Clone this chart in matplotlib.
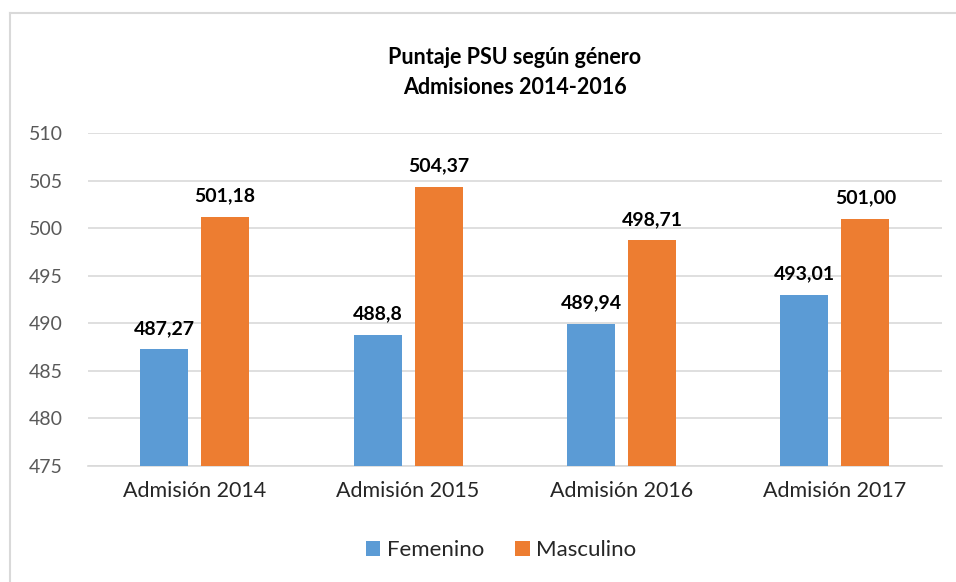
import numpy as np
import matplotlib.pyplot as plt
from matplotlib.lines import Line2D

categories = ["Admisión 2014", "Admisión 2015", "Admisión 2016", "Admisión 2017"]
femenino = [487.27, 488.8, 489.94, 493.01]
masculino = [501.18, 504.37, 498.71, 501.00]
fem_labels = ["487,27", "488,8", "489,94", "493,01"]
mas_labels = ["501,18", "504,37", "498,71", "501,00"]

plt.rcParams["font.family"] = ["Lato", "DejaVu Sans"]

fig = plt.figure(figsize=(9.56, 5.82), dpi=100)
ax = fig.add_axes([0.092, 0.1993, 0.893, 0.5722])

x = np.arange(len(categories))
w = 0.225
off = 0.143
b1 = ax.bar(x - off, femenino, w, color="#5B9BD5", label="Femenino", zorder=3)
b2 = ax.bar(x + off, masculino, w, color="#ED7D31", label="Masculino", zorder=3)

for bars, labels in [(b1, fem_labels), (b2, mas_labels)]:
    for rect, lab in zip(bars, labels):
        ax.annotate(lab, (rect.get_x() + rect.get_width() / 2, rect.get_height()),
                    xytext=(0, 9), textcoords="offset points",
                    ha="center", va="bottom", fontsize=14, fontweight="bold",
                    color="black")

ax.set_ylim(475, 510)
ax.set_xlim(-0.5, len(categories) - 0.5)
ax.set_yticks(np.arange(475, 511, 5))
ax.set_xticks(x)
ax.set_xticklabels(categories)
ax.tick_params(axis="y", length=0, pad=18, labelsize=14, labelcolor="#595959")
ax.tick_params(axis="x", length=0, pad=11, labelsize=15.5, labelcolor="#262626")
ax.grid(axis="y", color="#D9D9D9", linewidth=1.2, zorder=0)
for s in ["top", "right", "left"]:
    ax.spines[s].set_visible(False)
ax.spines["bottom"].set_color("#D9D9D9")
ax.spines["bottom"].set_linewidth(1.2)

fig.text(515 / 956, 1 - 57 / 582, "Puntaje PSU según género", ha="center", va="center",
         fontsize=15.5, fontweight="bold")
fig.text(515 / 956, 1 - 88 / 582, "Admisiones 2014-2016", ha="center", va="center",
         fontsize=15.5, fontweight="bold")

fig.legend(loc="center", bbox_to_anchor=(501 / 956, 1 - 550 / 582), ncol=2, frameon=False,
           fontsize=16, handlelength=0.65, handleheight=0.65, handletextpad=0.3,
           columnspacing=1.4, labelcolor="#262626")

# chart border (top and left edges visible)
fig.add_artist(Line2D([10 / 956, 10 / 956], [0, 1 - 13 / 582], color="#D9D9D9", linewidth=1.5))
fig.add_artist(Line2D([10 / 956, 1], [1 - 13 / 582, 1 - 13 / 582], color="#D9D9D9", linewidth=1.5))

fig.savefig("out.png", dpi=100)
